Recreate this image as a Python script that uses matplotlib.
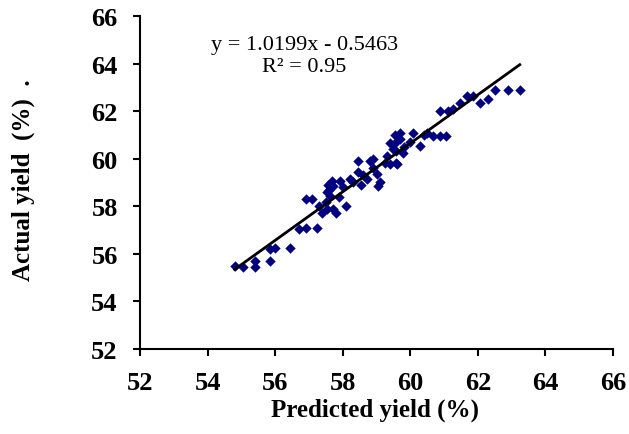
import numpy as np
import matplotlib
matplotlib.use("Agg")
import matplotlib.pyplot as plt

predicted = [54.8, 55.05, 55.4, 55.4, 55.85, 55.85, 56.0, 56.45, 56.7, 56.9, 57.25,
             56.9, 57.1, 57.52, 57.71, 57.52, 57.62, 57.71, 57.67, 57.92, 58.11, 58.21,
             58.46, 58.46, 58.8, 59.05, 58.71, 59.0, 59.4, 59.6,
             59.4, 59.69, 59.69, 59.54, 59.59, 59.79, 60.08, 60.28, 60.68, 60.88, 61.07,
             60.88, 61.12, 58.9, 59.1, 59.25, 59.59,
             61.27, 61.47, 61.67, 61.86, 62.06, 62.31, 62.5, 62.9, 63.24,
             57.4, 57.5, 57.6, 57.8, 57.55, 58.0, 58.3, 58.6, 58.55, 59.3, 59.5,
             59.55, 59.8, 60.0, 60.4, 60.5, 57.3, 57.9, 58.9]
actual = [55.49, 55.45, 55.7, 55.45, 55.7, 56.2, 56.25, 56.25, 57.05, 57.1, 57.1,
          58.3, 58.3, 57.88, 57.88, 58.6, 58.44, 58.86, 59.07, 59.07, 58.02, 59.14,
          59.42, 59.92, 59.92, 58.86, 59.14, 59.35, 59.77, 59.77,
          60.68, 61.1, 60.82, 60.68, 60.33, 60.26, 61.1, 60.54, 60.96, 60.96, 60.96,
          62.01, 62.01, 60.0, 59.0, 59.84, 59.84,
          62.08, 62.36, 62.64, 62.64, 62.36, 62.5, 62.9, 62.9, 62.9,
          57.7, 58.2, 58.7, 57.7, 58.9, 58.8, 59.0, 59.3, 58.9, 60.1, 60.4,
          61.0, 60.5, 60.7, 61.0, 61.1, 58.0, 58.4, 59.6]

slope = 1.0199
intercept = -0.5463
r2 = 0.95
ticks = [52, 54, 56, 58, 60, 62, 64, 66]

plt.rcParams['font.family'] = ['Liberation Serif', 'DejaVu Serif']

fig = plt.figure(figsize=(6.29, 4.35), dpi=100)
ax = fig.add_axes([0.2226, 0.1954, 0.752, 0.7656])

ax.scatter(predicted, actual, marker='D', s=28, color='#000080', zorder=3, linewidths=0)
xl = np.array([min(predicted), max(predicted)])
ax.plot(xl, slope * xl + intercept, color='black', lw=2.0, zorder=4)

ax.set_xlim(52, 66)
ax.set_ylim(52, 66)
ax.set_xticks(ticks)
ax.set_yticks(ticks)
ax.set_xticklabels([str(t) for t in ticks], fontweight='bold', fontsize=19)
ax.set_yticklabels([str(t) for t in ticks], fontweight='bold', fontsize=19)
for s in ['top', 'right']:
    ax.spines[s].set_visible(False)
for s in ['left', 'bottom']:
    ax.spines[s].set_linewidth(1.5)
ax.tick_params(direction='out', length=5, width=1.5)
ax.tick_params(axis='x', pad=11)
ax.tick_params(axis='y', pad=11)

ax.set_xlabel('Predicted yield (%)', fontweight='bold', fontsize=18, va='center')
ax.xaxis.set_label_coords(0.497, -0.18)
ax.set_ylabel('Actual yield  (%)  .', fontweight='bold', fontsize=18, va='center')
ax.yaxis.set_label_coords(-0.247, 0.51)

ax.text(0.348, 0.913, 'y = 1.0199x - 0.5463', transform=ax.transAxes,
        ha='center', va='center', fontsize=16)
ax.text(0.347, 0.847, 'R\u00b2 = 0.95', transform=ax.transAxes,
        ha='center', va='center', fontsize=16)

fig.savefig('out.png', dpi=100)
